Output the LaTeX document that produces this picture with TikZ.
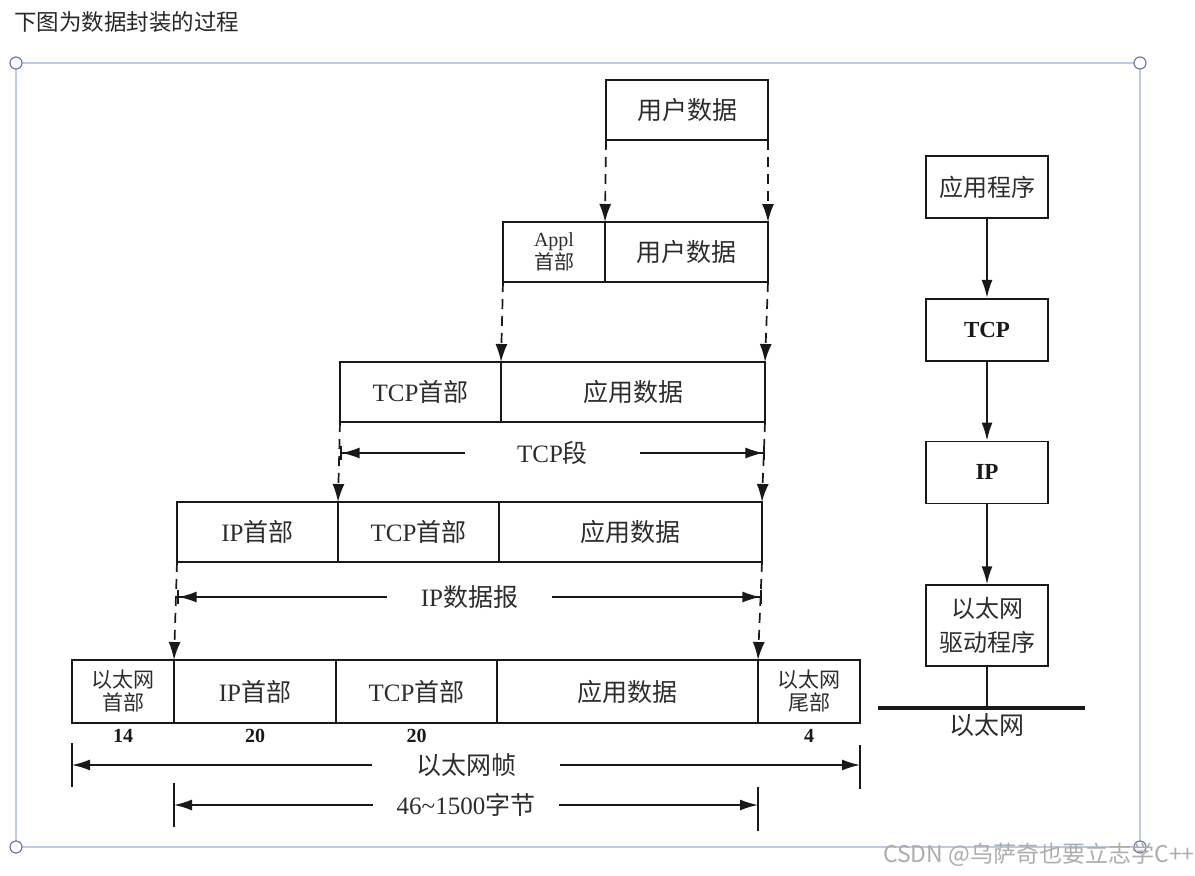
\documentclass[tikz,border=0pt]{standalone}
\usepackage{fontspec}
\setmainfont{Liberation Serif}
\newfontfamily\cjk{Noto Sans CJK SC}
\usepackage{tikz}
\usetikzlibrary{positioning, calc, arrows.meta}
\definecolor{ink}{RGB}{25,25,25}
\definecolor{textcol}{RGB}{45,45,45}
\definecolor{framecol}{RGB}{190,202,228}
\definecolor{handlecol}{RGB}{110,122,170}
\definecolor{markgray}{RGB}{172,172,172}
\definecolor{titlecol}{RGB}{40,40,40}
\tikzstyle{Arrow} = [
    ink, line width=1.7pt,
    dash pattern=on 10pt off 7pt,
    -{Latex[length=18pt, width=12pt]}
]
\tikzstyle{Dim} = [ink, line width=1.6pt, -{Latex[length=18pt, width=11pt]}]
\tikzstyle{DimBar} = [ink, line width=1.6pt, -{Latex[length=18pt, width=11pt]Bar[width=14pt]}]

\begin{document}
\begin{tikzpicture}[
x=1pt, y=-1pt,
field/.style={
    draw=ink, line width=1.7pt,
    inner sep=0pt, outer sep=0pt,
    minimum height=60,
    text=textcol, align=center,
    font=\fontsize{25}{27}\selectfont
    },
small/.style={font=\fontsize{21}{23}\selectfont},
layer/.style={
    draw=ink, line width=1.7pt,
    minimum width=122, minimum height=62,
    text=textcol, align=center,
    font=\fontsize{24}{34}\selectfont
    },
bold/.style={font=\bfseries\fontsize{23}{25}\selectfont, text=ink},
size/.style={text=ink, inner sep=0pt, font=\bfseries\fontsize{20}{22}\selectfont},
dimtext/.style={text=textcol, inner ysep=0pt, font=\fontsize{25}{27}\selectfont},
handle/.style={draw=handlecol, fill=white, line width=1.2pt, circle, minimum size=12, inner sep=0pt}
]
\useasboundingbox (0,0) rectangle (1195,876);

\node[anchor=west, inner sep=0pt, text=titlecol, font=\cjk\fontsize{22.5}{24}\selectfont] (title) at (14,22) {下图为数据封装的过程};

% selection frame
\draw[framecol, line width=1.2pt] (16,63) rectangle (1140,847);
\foreach \x/\y/\n in {16/63/h1, 1140/63/h2, 16/847/h3, 1140/847/h4}
    \node[handle] (\n) at (\x,\y) {};

% user data
\node[field, minimum width=162, anchor=north west] (ud1) at (606,80) {\cjk 用户数据};

% appl header
\node[field, small, minimum width=102, anchor=north west, font=\fontsize{20}{23}\selectfont] (ah2) at (503,222) {Appl\\{\cjk 首部}};
\node[field, minimum width=163, right=0pt of ah2] (ud2) {\cjk 用户数据};

% tcp segment
\node[field, minimum width=161, anchor=north west] (th3) at (340,362) {TCP\cjk 首部};
\node[field, minimum width=264, right=0pt of th3] (ad3) {\cjk 应用数据};

% ip datagram
\node[field, minimum width=161, anchor=north west] (ih4) at (177,502) {IP\cjk 首部};
\node[field, minimum width=161, right=0pt of ih4] (th4) {TCP\cjk 首部};
\node[field, minimum width=263, right=0pt of th4] (ad4) {\cjk 应用数据};

% ethernet frame
\node[field, small, minimum width=102, minimum height=63, anchor=north west] (eh5) at (72,660) {{\cjk 以太网}\\{\cjk 首部}};
\node[field, minimum width=162, minimum height=63, right=0pt of eh5] (ih5) {IP\cjk 首部};
\node[field, minimum width=161, minimum height=63, right=0pt of ih5] (th5) {TCP\cjk 首部};
\node[field, minimum width=261, minimum height=63, right=0pt of th5] (ad5) {\cjk 应用数据};
\node[field, small, minimum width=102, minimum height=63, right=0pt of ad5] (et5) {{\cjk 以太网}\\{\cjk 尾部}};

\node[size, below=6pt of eh5] (n14) {14};
\node[size, below=6pt of ih5] (n20a) {20};
\node[size, below=6pt of th5] (n20b) {20};
\node[size, below=6pt of et5] (n4) {4};

\draw[Arrow] (ud1.south west) -- (ud2.north west);
\draw[Arrow] (ud1.south east) -- (ud2.north east);

\draw[Arrow] (ah2.south west) -- (th3.north east);
\draw[Arrow] (ud2.south east) -- (ad3.north east);

\draw[Arrow] (th3.south west) -- (th4.north west);
\draw[Arrow] (ad3.south east) -- (ad4.north east);

\draw[Arrow] (ih4.south west) -- (ih5.north west);
\draw[Arrow] (ad4.south east) -- (et5.north west);

% lengths
\node[dimtext, inner xsep=52pt] (seg) at ($(th3.south west)!0.5!(ad3.south east)+(0,31)$) {TCP\cjk 段};
\draw[DimBar] (seg) -- (seg -| th3.west);
\draw[DimBar] (seg) -- (seg -| ad3.east);

\node[dimtext, inner xsep=34pt] (dgm) at ($(ih4.south west)!0.5!(ad4.south east)+(0,35)$) {IP\cjk 数据报};
\draw[DimBar] (dgm) -- (dgm -| ih4.west);
\draw[DimBar] (dgm) -- (dgm -| ad4.east);

\node[dimtext, inner xsep=44pt] (frm) at ($(eh5.south west)!0.5!(et5.south east)+(0,42)$) {\cjk 以太网帧};
\draw[Dim] (frm) -- (frm -| eh5.west);
\draw[Dim] (frm) -- (frm -| et5.east);
\draw[ink, line width=1.7pt] ($(eh5.south west)+(0,20)$) -- ++(0,44);
\draw[ink, line width=1.7pt] ($(et5.south east)+(0,22)$) -- ++(0,44);

\node[dimtext, inner xsep=24pt] (pay) at ($(ih5.south west)!0.5!(ad5.south east)+(0,82)$) {46\textasciitilde1500\cjk 字节};
\draw[Dim] (pay) -- (pay -| ih5.west);
\draw[Dim] (pay) -- (pay -| ad5.east);
\draw[ink, line width=1.7pt] ($(ih5.south west)+(0,60)$) -- ++(0,44);
\draw[ink, line width=1.7pt] ($(ad5.south east)+(0,64)$) -- ++(0,44);

% protocol stack
\node[layer] (app) at (987,187) {\cjk 应用程序};
\node[layer, bold, below=79pt of app] (tcp) {TCP};
\node[layer, bold, below=79pt of tcp] (ip) {IP};
\node[layer, minimum height=81, below=80pt of ip] (drv) {{\cjk 以太网}\\{\cjk 驱动程序}};

\draw[Dim] (app) -- (tcp);
\draw[Dim] (tcp) -- (ip);
\draw[Dim] (ip) -- (drv);

\coordinate (bus) at ($(drv.south)+(0,41)$);
\coordinate (busL) at ($(bus)+(-109,0)$);
\coordinate (busR) at ($(bus)+(98,0)$);
\draw[ink, line width=1.7pt] (drv) -- (bus);
\draw[ink, line width=4.5pt] (busL) -- (busR);
\node[dimtext, below=5pt of bus] (eth) {\cjk 以太网};

\node[anchor=west, inner sep=0pt, text=markgray, font=\cjk\fontsize{23}{25}\selectfont] (mark) at (883,855) {CSDN @乌萨奇也要立志学C++};

\end{tikzpicture}
\end{document}
